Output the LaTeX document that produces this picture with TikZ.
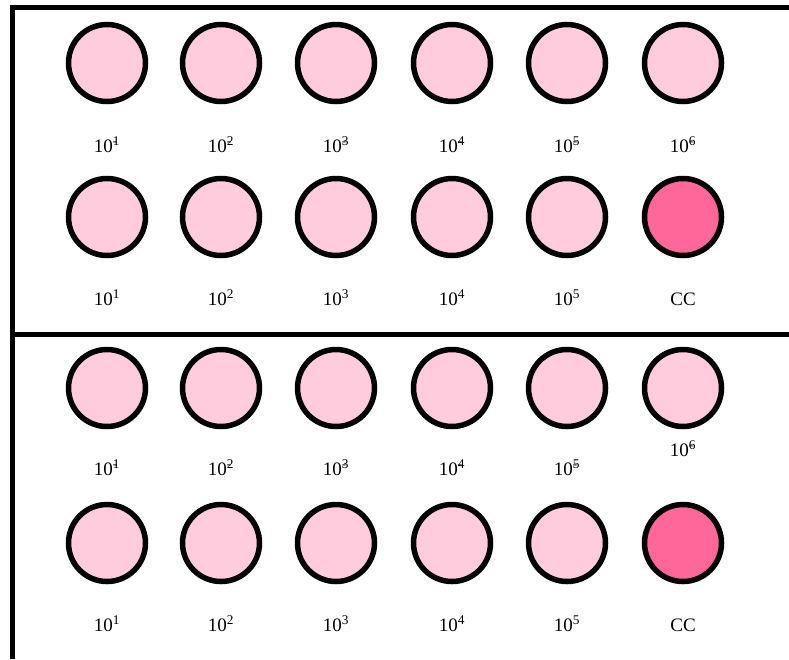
\documentclass[tikz,border=0pt]{standalone}
\usepackage{fontspec}
\setmainfont{Liberation Serif}
\definecolor{lightpink}{HTML}{FFCCDD}
\definecolor{hotpink}{HTML}{FF6699}
\begin{document}
\begin{tikzpicture}[x=1pt,y=-1pt,
  well/.style={circle,draw=black,line width=5.5pt,fill=lightpink,minimum size=77pt,inner sep=0pt},
  ctrl/.style={well,fill=hotpink},
  lbl/.style={anchor=base,font=\fontsize{19}{22}\selectfont,inner sep=0pt},
  frame/.style={line width=5pt}]
\useasboundingbox (0,0) rectangle (789,659);
% frame
\coordinate (tl) at (12,7);
\coordinate (tr) at (789,7);
\coordinate (bl) at (12,659);
\coordinate (ml) at (12,334);
\coordinate (mr) at (789,334);
\draw[frame] (bl) -- (tl) -- (tr);
\draw[frame] (ml) -- (mr);
% wells
\foreach \x [count=\i] in {107,221,336,452,567,683}{
  \node[well] (a\i) at (\x,63) {};
  \node[well] (c\i) at (\x,388) {};
}
\foreach \x [count=\i] in {107,221,336,452,567}{
  \node[well] (b\i) at (\x,217) {};
  \node[well] (d\i) at (\x,543) {};
}
\node[ctrl] (b6) at (683,217) {};
\node[ctrl] (d6) at (683,543) {};
% labels row 1 and 3 (clipped negative exponents)
\foreach \x/\e [count=\i] in {107/1,221/2,336/3,452/4,567/5}{
  \node[lbl] (la\i) at (\x,152) {10\textsuperscript{\rlap{-}\e}};
  \node[lbl] (lc\i) at (\x,475) {10\textsuperscript{\rlap{-}\e}};
}
\node[lbl] (la6) at (683,152) {10\textsuperscript{\rlap{-}6}};
\node[lbl] (lc6) at (683,456) {10\textsuperscript{\rlap{-}6}};
% labels row 2 and 4
\foreach \x/\e [count=\i] in {107/1,221/2,336/3,452/4,567/5}{
  \node[lbl] (lb\i) at (\x,305) {10\textsuperscript{\e}};
  \node[lbl] (ld\i) at (\x,631) {10\textsuperscript{\e}};
}
\node[lbl] (lb6) at (683,305) {CC};
\node[lbl] (ld6) at (683,631) {CC};
\end{tikzpicture}
\end{document}
